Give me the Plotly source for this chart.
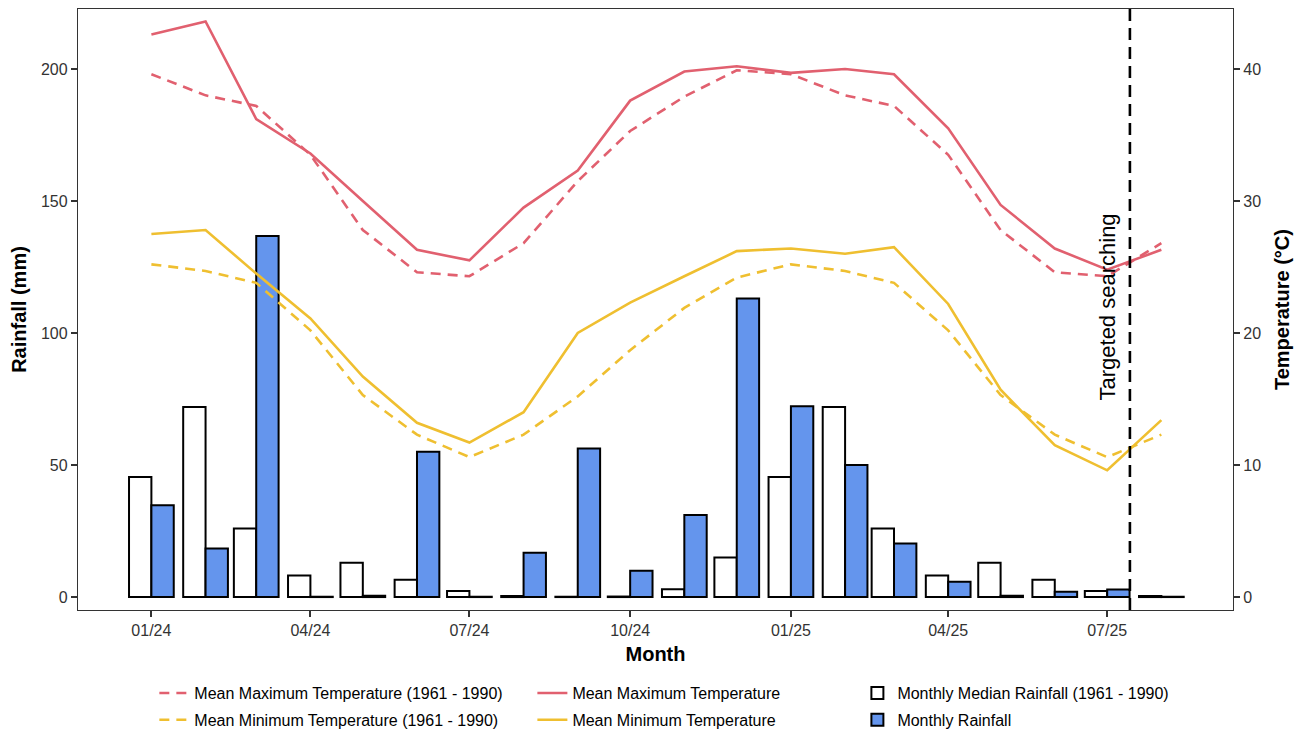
import pandas as pd
import numpy as np
import plotly.graph_objects as go

# ---------------- data ----------------
months = pd.date_range("2024-01-01", "2025-08-01", freq="MS")

# Monthly median rainfall 1961-1990 (mm), Jan..Dec climatology repeated
median_rain_clim = [45.5, 72.0, 26.0, 8.2, 13.0, 6.6, 2.3, 0.4, 0.0, 0.2, 3.0, 15.0]
median_rain = median_rain_clim + median_rain_clim[:8]

# Monthly rainfall (mm), 01/24 .. 08/25
monthly_rain = [34.8, 18.4, 136.7, 0.0, 0.5, 55.0, 0.0, 16.8, 56.3, 10.0, 31.1, 113.1,
                72.3, 50.0, 20.3, 5.8, 0.5, 2.0, 2.9, 0.0]

# Mean maximum temperature (°C)
max_temp = [42.6, 43.6, 36.2, 33.6, 30.0, 26.3, 25.5, 29.5, 32.3, 37.6, 39.8, 40.2,
            39.7, 40.0, 39.6, 35.5, 29.7, 26.4, 24.8, 26.3]
# Mean minimum temperature (°C)
min_temp = [27.5, 27.8, 24.5, 21.1, 16.7, 13.2, 11.7, 14.0, 20.0, 22.3, 24.3, 26.2,
            26.4, 26.0, 26.5, 22.2, 15.7, 11.5, 9.6, 13.4]

# 1961-1990 climatology
max_temp_clim12 = [39.6, 38.0, 37.2, 33.5, 27.8, 24.6, 24.3, 26.8, 31.5, 35.3, 37.9, 39.9]
min_temp_clim12 = [25.2, 24.7, 23.8, 20.2, 15.3, 12.3, 10.6, 12.3, 15.2, 18.7, 21.9, 24.2]
max_temp_clim = max_temp_clim12 + max_temp_clim12[:8]
min_temp_clim = min_temp_clim12 + min_temp_clim12[:8]

search_date = "2025-07-14"
search_label = "Targeted searching"

tick_dates = pd.date_range("2024-01-01", "2025-07-01", freq="3MS")
tick_text = [d.strftime("%m/%y") for d in tick_dates]

# ---------------- styles ----------------
RED = "#E1606F"
YEL = "#EFBF30"
BLUE = "#6495ED"
FONT = "Liberation Sans, Arial, sans-serif"
AX = "#333333"
DAY = 86400000
bar_w = 12.8 * DAY

def disp(v):
    # zero-height bars are drawn as a flat outline (as in the original)
    return np.maximum(np.array(v, dtype=float), 0.12)

fig = go.Figure()

fig.add_trace(go.Bar(
    x=months, y=disp(median_rain), width=bar_w, offset=-bar_w,
    marker=dict(color="white", line=dict(color="black", width=2)),
    name="Monthly Median Rainfall (1961 - 1990)", legend="legend3",
    legendgroup="g5", yaxis="y"))
fig.add_trace(go.Bar(
    x=months, y=disp(monthly_rain), width=bar_w, offset=0,
    marker=dict(color=BLUE, line=dict(color="black", width=2)),
    name="Monthly Rainfall", legend="legend3", legendgroup="g6", yaxis="y"))

fig.add_trace(go.Scatter(
    x=months, y=max_temp_clim, mode="lines",
    line=dict(color=RED, width=2.6, dash="10px,7px"),
    name="Mean Maximum Temperature (1961 - 1990)", legend="legend",
    legendgroup="g1", yaxis="y2"))
fig.add_trace(go.Scatter(
    x=months, y=min_temp_clim, mode="lines",
    line=dict(color=YEL, width=2.6, dash="10px,7px"),
    name="Mean Minimum Temperature (1961 - 1990)", legend="legend",
    legendgroup="g2", yaxis="y2"))
fig.add_trace(go.Scatter(
    x=months, y=max_temp, mode="lines",
    line=dict(color=RED, width=2.6),
    name="Mean Maximum Temperature", legend="legend2",
    legendgroup="g3", yaxis="y2"))
fig.add_trace(go.Scatter(
    x=months, y=min_temp, mode="lines",
    line=dict(color=YEL, width=2.6),
    name="Mean Minimum Temperature", legend="legend2",
    legendgroup="g4", yaxis="y2"))

fig.add_shape(type="line", xref="x", yref="paper", x0=search_date, x1=search_date,
              y0=0, y1=1, line=dict(color="black", width=2.6, dash="12px,7px"),
              layer="above")
fig.add_annotation(x=search_date, y=110, xref="x", yref="y", text=search_label,
                   textangle=-90, showarrow=False, xshift=-22,
                   font=dict(size=22, color="black", family=FONT))

legend_common = dict(orientation="v", bgcolor="rgba(0,0,0,0)",
                     font=dict(size=16, color="black", family=FONT),
                     tracegroupgap=3, traceorder="grouped",
                     xanchor="left", yanchor="top")

LEG_Y = -0.11

fig.update_layout(
    width=1304, height=731,
    margin=dict(l=70, r=79, t=1, b=129, autoexpand=False),
    paper_bgcolor="white", plot_bgcolor="white",
    barmode="overlay",
    font=dict(family=FONT, size=16, color=AX),
    xaxis=dict(
        type="date", automargin=False,
        range=["2023-11-20", "2025-09-11"],
        tickvals=tick_dates, ticktext=tick_text,
        ticks="outside", ticklen=6, tickwidth=1.6, tickcolor=AX,
        showline=True, linecolor=AX, linewidth=1.3, mirror=True,
        showgrid=False, zeroline=False,
        tickfont=dict(size=16, color=AX, family=FONT),
        title=dict(text="<b>Month</b>", font=dict(size=20, color="black", family=FONT),
                   standoff=8),
    ),
    yaxis=dict(
        automargin=False,
        range=[-4.9, 222.7],
        tickvals=[0, 50, 100, 150, 200],
        ticks="outside", ticklen=6, tickwidth=1.6, tickcolor=AX,
        showline=True, linecolor=AX, linewidth=1.3,
        showgrid=False, zeroline=False,
        tickfont=dict(size=16, color=AX, family=FONT),
        title=dict(text="<b>Rainfall (mm)</b>", font=dict(size=20, color="black", family=FONT),
                   standoff=8),
    ),
    yaxis2=dict(
        automargin=False,
        overlaying="y", side="right",
        range=[-0.98, 44.54],
        tickvals=[0, 10, 20, 30, 40],
        ticks="outside", ticklen=6, tickwidth=1.6, tickcolor=AX,
        showline=True, linecolor=AX, linewidth=1.3,
        showgrid=False, zeroline=False,
        tickfont=dict(size=16, color=AX, family=FONT),
        title=dict(text="<b>Temperature (°C)</b>", font=dict(size=20, color="black", family=FONT),
                   standoff=14),
    ),
    legend=dict(x=0.0661, y=LEG_Y, **legend_common),
    legend2=dict(x=0.3934, y=LEG_Y, **legend_common),
    legend3=dict(x=0.6748, y=LEG_Y, **legend_common),
)

fig.write_html("out.html")
